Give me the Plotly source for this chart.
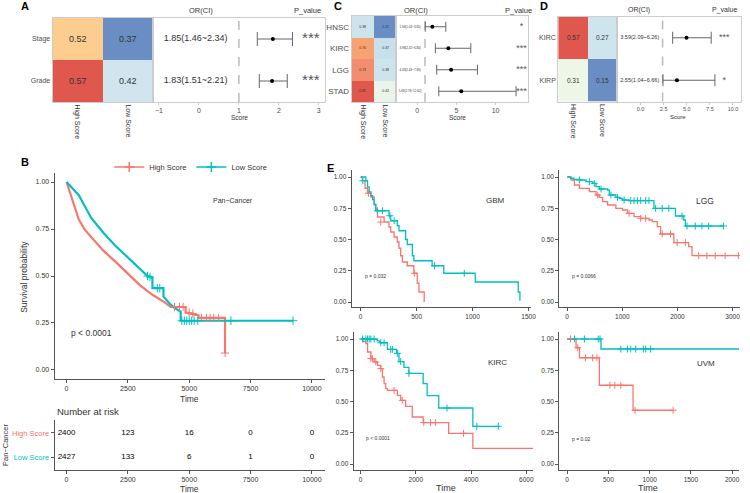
import plotly.graph_objects as go

W, H = 750, 493
def fx(p): return p / W
def fy(p): return 1 - p / H

RED = "#F8766D"; TEAL = "#00BFC4"
FONT = "Liberation Sans"
TXT = "#333333"; AX = "#555555"; BOX = "#cccccc"

groups = ["High Score", "Low Score"]

# ---------------- Panel A ----------------
a_rows = ["Stage", "Grade"]
a_high = [0.52, 0.57]
a_low = [0.37, 0.42]
a_or = [1.85, 1.83]
a_lo = [1.46, 1.51]
a_hi = [2.34, 2.21]
a_p = ["***", "***"]
a_ticks = [-1, 0, 1, 2, 3]

# ---------------- Panel C ----------------
c_rows = ["HNSC", "KIRC", "LGG", "STAD"]
c_high = [0.38, 0.70, 0.73, 0.81]
c_low = [0.22, 0.37, 0.38, 0.43]
c_or = [1.94, 3.98, 4.33, 5.63]
c_lo = [1.03, 2.32, 2.49, 2.76]
c_hi = [3.65, 6.84, 7.69, 12.62]
c_p = ["*", "***", "***", "***"]
c_ticks = [0, 5, 10]

# ---------------- Panel D ----------------
d_rows = ["KIRC", "KIRP"]
d_high = [0.57, 0.31]
d_low = [0.27, 0.15]
d_or = [3.59, 2.55]
d_lo = [2.09, 1.04]
d_hi = [6.26, 6.66]
d_p = ["***", "*"]
d_ticklabels = [0.0, 2.5, 5.0, 7.5, 10.0]

# ---------------- Panel B (pan-cancer KM) ----------------
b_high_t = [0, 250, 500, 750, 1000, 1500, 2000, 2500, 3000, 3500, 4000, 4250, 4850, 4850, 5380, 5380, 6460, 6460]
b_high_s = [1.0, 0.90, 0.80, 0.745, 0.71, 0.635, 0.575, 0.51, 0.45, 0.40, 0.36, 0.335, 0.335, 0.305, 0.29, 0.277, 0.277, 0.09]
b_low_t = [0, 250, 500, 750, 1000, 1250, 1500, 2000, 2500, 3000, 3300, 3500, 3500, 3950, 3950, 4200, 4400, 4650, 4650, 9230]
b_low_s = [1.0, 0.965, 0.93, 0.87, 0.81, 0.77, 0.73, 0.66, 0.60, 0.54, 0.50, 0.49, 0.435, 0.435, 0.39, 0.354, 0.33, 0.31, 0.262, 0.262]
b_cens_high_t = [4400, 4600, 4750, 5000, 5150, 5500, 5700, 5850, 6000, 6200, 6460]
b_cens_high_s = [0.335, 0.335, 0.335, 0.305, 0.30, 0.277, 0.277, 0.277, 0.277, 0.277, 0.09]
b_cens_low_t = [3300, 3400, 3700, 3800, 4700, 4800, 4900, 5000, 5100, 5200, 5350, 6700, 9230]
b_cens_low_s = [0.50, 0.495, 0.435, 0.435, 0.262, 0.262, 0.262, 0.262, 0.262, 0.262, 0.262, 0.262, 0.262]

risk_times = [0, 2500, 5000, 7500, 10000]
risk_high = [2400, 123, 16, 0, 0]
risk_low = [2427, 133, 6, 1, 0]

# ---------------- Panel E (per-cancer KM) ----------------
gbm_high_t = [0, 15, 40, 62, 92, 121, 136, 151, 210, 254, 269, 299, 328, 343, 358, 373, 417, 476, 506, 521, 568]
gbm_high_s = [1.0, 0.97, 0.91, 0.87, 0.84, 0.78, 0.74, 0.68, 0.64, 0.60, 0.56, 0.52, 0.48, 0.43, 0.37, 0.32, 0.29, 0.23, 0.15, 0.08, 0.0]
gbm_low_t = [0, 47, 62, 77, 92, 107, 121, 135, 254, 269, 328, 343, 402, 417, 462, 476, 639, 743, 1024, 1408, 1423]
gbm_low_s = [1.0, 0.97, 0.92, 0.88, 0.85, 0.82, 0.78, 0.73, 0.69, 0.65, 0.61, 0.57, 0.50, 0.46, 0.37, 0.33, 0.29, 0.23, 0.16, 0.08, 0.01]
gbm_cens_high_t = [70, 180, 480]
gbm_cens_high_s = [0.87, 0.64, 0.23]
gbm_cens_low_t = [20, 150, 195, 262, 300, 660, 926]
gbm_cens_low_s = [0.97, 0.73, 0.73, 0.69, 0.65, 0.29, 0.23]

lgg_high_t = [0, 72, 132, 222, 402, 522, 583, 643, 733, 883, 1003, 1093, 1213, 1333, 1483, 1544, 1634, 1694, 1934, 2204, 2264, 3105]
lgg_high_s = [1.0, 0.976, 0.936, 0.909, 0.883, 0.856, 0.837, 0.803, 0.776, 0.749, 0.736, 0.709, 0.683, 0.669, 0.656, 0.643, 0.603, 0.544, 0.475, 0.443, 0.371, 0.371]
lgg_low_t = [0, 60, 120, 222, 342, 462, 522, 583, 733, 763, 883, 943, 1003, 1123, 1574, 1964, 2114, 2144, 2835]
lgg_low_s = [1.0, 0.99, 0.98, 0.976, 0.963, 0.949, 0.923, 0.904, 0.896, 0.856, 0.837, 0.829, 0.816, 0.811, 0.749, 0.688, 0.656, 0.608, 0.608]
lgg_cens_high_t = [553, 1123, 1333, 1423, 1724, 1874, 1994, 2144, 2384, 2534, 2685, 2865, 3105]
lgg_cens_high_s = [0.856, 0.709, 0.669, 0.669, 0.544, 0.544, 0.475, 0.475, 0.371, 0.371, 0.371, 0.371, 0.371]
lgg_cens_low_t = [222, 402, 492, 613, 793, 913, 1033, 1153, 1213, 1273, 1333, 1423, 1483, 1604, 1724, 1844, 2084, 2174, 2324, 2444, 2565, 2835]
lgg_cens_low_s = [0.976, 0.963, 0.949, 0.904, 0.856, 0.837, 0.816, 0.811, 0.811, 0.811, 0.811, 0.811, 0.811, 0.749, 0.749, 0.749, 0.688, 0.608, 0.608, 0.608, 0.608, 0.608]

kirc_high_t = [0, 100, 192, 252, 372, 492, 612, 731, 791, 851, 911, 971, 1331, 1451, 1631, 1871, 2266, 3189, 4065, 6247]
kirc_high_s = [1.0, 0.98, 0.963, 0.896, 0.843, 0.816, 0.789, 0.763, 0.696, 0.643, 0.603, 0.589, 0.549, 0.509, 0.461, 0.376, 0.331, 0.245, 0.125, 0.125]
kirc_low_t = [0, 600, 700, 971, 1307, 1391, 1571, 1751, 2266, 2410, 2830, 4065, 5000]
kirc_low_s = [1.0, 0.985, 0.97, 0.917, 0.885, 0.819, 0.773, 0.725, 0.643, 0.547, 0.448, 0.301, 0.301]
kirc_cens_high_t = [372, 432, 552, 731, 1211, 1511, 2290, 2530, 2710, 3729]
kirc_cens_high_s = [0.843, 0.843, 0.816, 0.763, 0.589, 0.509, 0.331, 0.331, 0.331, 0.245]
kirc_cens_low_t = [72, 192, 252, 312, 372, 492, 731, 851, 1091, 1151, 1331, 1451, 1751, 3129, 4209, 4988]
kirc_cens_low_s = [1.0, 1.0, 1.0, 1.0, 1.0, 1.0, 0.97, 0.97, 0.917, 0.917, 0.885, 0.819, 0.725, 0.448, 0.301, 0.301]

uvm_high_t = [0, 108, 149, 390, 799, 1285]
uvm_high_s = [1.0, 0.93, 0.85, 0.63, 0.43, 0.43]
uvm_low_t = [0, 410, 2100]
uvm_low_s = [1.0, 0.92, 0.92]
uvm_cens_high_t = [40, 128, 221, 309, 361, 518, 578, 651, 823, 1285]
uvm_cens_high_s = [1.0, 0.93, 0.85, 0.85, 0.85, 0.63, 0.63, 0.63, 0.43, 0.43]
uvm_cens_low_t = [88, 209, 377, 398, 651, 731, 771, 831, 924, 952, 1012]
uvm_cens_low_s = [1.0, 1.0, 1.0, 1.0, 0.92, 0.92, 0.92, 0.92, 0.92, 0.92, 0.92]

# =====================================================================
fig = go.Figure()
layout = {}
shapes = []
annotations = []

def xr(n): return "x" if n == 1 else f"x{n}"
def yr(n): return "y" if n == 1 else f"y{n}"

def axis_pair(n, xdom, ydom, xrange, yrange, xkw=None, ykw=None):
    xname = "xaxis" if n == 1 else f"xaxis{n}"
    yname = "yaxis" if n == 1 else f"yaxis{n}"
    xa = dict(domain=[fx(xdom[0]), fx(xdom[1])], range=xrange, anchor=yr(n),
              showgrid=False, zeroline=False, fixedrange=True)
    ya = dict(domain=[fy(ydom[1]), fy(ydom[0])], range=yrange, anchor=xr(n),
              showgrid=False, zeroline=False, fixedrange=True)
    xa.update(xkw or {}); ya.update(ykw or {})
    layout[xname] = xa; layout[yname] = ya

def heat(n, rows, high, low, cs, zmin, zmax, tsize, rowsize, xdom, ydom):
    z = [[h, l] for h, l in zip(high, low)]
    fig.add_trace(go.Heatmap(z=z, x=groups, y=rows, colorscale=cs, zmin=zmin, zmax=zmax,
                             showscale=False, texttemplate="%{z:.2f}",
                             textfont=dict(size=tsize, color=TXT, family=FONT),
                             xaxis=xr(n), yaxis=yr(n), hoverinfo="skip"))
    axis_pair(n, xdom, ydom, [-0.5, 1.5], [len(rows) - 0.5, -0.5],
              xkw=dict(type="category", tickangle=90, tickfont=dict(size=7, color=TXT),
                       showline=True, mirror=True, linecolor=BOX, ticks=""),
              ykw=dict(type="category", tickfont=dict(size=rowsize, color="#4d4d4d"),
                       showline=True, mirror=True, linecolor=BOX, ticks=""))

def forest(n, o, lo, hi, p, xrange, tickvals, ticktext, tickfs, orx, orsize,
           px_, psize, cap, xdom, ydom):
    rows = list(range(len(o)))
    labels = [f"{a:.2f}({b:.2f}~{c:.2f})" for a, b, c in zip(o, lo, hi)]
    fig.add_trace(go.Scatter(
        x=o, y=rows, mode="markers", marker=dict(size=4, color="black"),
        error_x=dict(type="data", symmetric=False,
                     array=[h - v for h, v in zip(hi, o)],
                     arrayminus=[v - l for v, l in zip(o, lo)],
                     color="#666666", thickness=1, width=cap),
        xaxis=xr(n), yaxis=yr(n), hoverinfo="skip", showlegend=False))
    fig.add_trace(go.Scatter(x=[orx] * len(o), y=rows, mode="text", text=labels,
                             textfont=dict(size=orsize, color=TXT, family=FONT),
                             xaxis=xr(n), yaxis=yr(n), hoverinfo="skip", showlegend=False))
    fig.add_trace(go.Scatter(x=[px_] * len(o), y=rows, mode="text", text=p,
                             textfont=dict(size=psize, color="#555555", family=FONT),
                             xaxis=xr(n), yaxis=yr(n), hoverinfo="skip", showlegend=False))
    shapes.append(dict(type="line", xref=xr(n), yref=f"{yr(n)} domain", x0=1, x1=1, y0=0, y1=1,
                       line=dict(color="#bbbbbb", width=1.5, dash="dash"), layer="below"))
    axis_pair(n, xdom, ydom, xrange, [len(o) - 0.5, -0.5],
              xkw=dict(showline=True, mirror=True, linecolor=BOX, ticks="outside", ticklen=2,
                       tickcolor=BOX, tickvals=tickvals, ticktext=ticktext,
                       tickfont=dict(size=tickfs, color="#4d4d4d")),
              ykw=dict(showline=True, mirror=True, linecolor=BOX, showticklabels=False, ticks=""))

def km_axes(n, xdom, ydom, xrange, yrange, xticks, fs=7):
    axis_pair(n, xdom, ydom, xrange, yrange,
              xkw=dict(showline=True, linecolor=AX, linewidth=1, ticks="outside", ticklen=3,
                       tickcolor=AX, tickvals=xticks, ticktext=[str(v) for v in xticks],
                       tickfont=dict(size=fs, color=TXT)),
              ykw=dict(showline=True, linecolor=AX, linewidth=1, ticks="outside", ticklen=3,
                       tickcolor=AX, tickvals=[0, 0.25, 0.5, 0.75, 1.0],
                       ticktext=["0.00", "0.25", "0.50", "0.75", "1.00"],
                       tickfont=dict(size=fs, color=TXT)))

def km(n, t, s, color, shape="hv", width=1.3):
    fig.add_trace(go.Scatter(x=t, y=s, mode="lines", line=dict(color=color, width=width, shape=shape),
                             xaxis=xr(n), yaxis=yr(n), hoverinfo="skip", showlegend=False))

def cens(n, t, s, color, size=5):
    fig.add_trace(go.Scatter(x=t, y=s, mode="markers",
                             marker=dict(symbol="cross-thin", size=size, color=color,
                                         line=dict(color=color, width=1)),
                             xaxis=xr(n), yaxis=yr(n), hoverinfo="skip", showlegend=False))

# ---- Heatmaps ----
cs_a = [[0, "#6a8ec4"], [0.25, "#d0e5ee"], [0.5, "#f0f6e6"], [0.75, "#fdcd90"], [1, "#e0574e"]]
cs_c = [[0, "#6a8ec4"], [0.26, "#c9e2ed"], [0.36, "#ecf5ea"], [0.6, "#fdd495"],
        [0.81, "#f8a374"], [0.86, "#f39070"], [1, "#e0574e"]]
cs_d = [[0, "#6a8ec4"], [0.29, "#d0e6ef"], [0.38, "#eef6e8"], [0.7, "#fdcd90"], [1, "#e0574e"]]

heat(1, a_rows, a_high, a_low, cs_a, 0.37, 0.57, 9, 7, (53, 154), (18, 102))
forest(2, a_or, a_lo, a_hi, a_p, [-1.15, 3.15], a_ticks, [str(v).replace("-", "\u2212") for v in a_ticks],
       7, -0.08, 9, 2.8, 15, 7, (154, 327), (18, 102))

heat(3, c_rows, c_high, c_low, cs_c, 0.22, 0.81, 3.5, 8, (354, 399), (16, 102))
forest(4, c_or, c_lo, c_hi, c_p, [-2.66, 14.2], c_ticks, [str(v) for v in c_ticks],
       7, -0.9, 3, 13.3, 9, 5, (399, 532), (16, 102))

heat(5, d_rows, d_high, d_low, cs_d, 0.15, 0.57, 6.5, 7, (562, 621), (16.5, 101.5))
forest(6, d_or, d_lo, d_hi, d_p, [-3.95, 9.49], [v - 1.38 for v in d_ticklabels],
       [f"{v:.1f}" for v in d_ticklabels], 5.5, -1.47, 5.5, 7.67, 9, 6, (621, 746), (16.5, 101.5))

# ---- Panel B ----
km_axes(7, (55, 327), (173, 379), [-486, 10526], [-0.048, 1.048], risk_times, fs=7)
fig.add_trace(go.Scatter(x=b_high_t, y=b_high_s, mode="lines", line=dict(color=RED, width=2.2),
                         xaxis="x7", yaxis="y7", hoverinfo="skip", showlegend=False))
fig.add_trace(go.Scatter(x=b_low_t, y=b_low_s, mode="lines", line=dict(color=TEAL, width=2.2),
                         xaxis="x7", yaxis="y7", hoverinfo="skip", showlegend=False))
cens(7, b_cens_high_t, b_cens_high_s, RED, 6)
cens(7, b_cens_low_t, b_cens_low_s, TEAL, 6)
for name, col in (("High Score", RED), ("Low Score", TEAL)):
    fig.add_trace(go.Scatter(x=[None], y=[None], mode="lines+markers", name=name,
                             line=dict(color=col, width=1.5),
                             marker=dict(symbol="cross-thin", size=7, color=col, line=dict(color=col, width=1.5)),
                             xaxis="x7", yaxis="y7", showlegend=True))

# risk table
axis_pair(8, (55, 327), (420, 470), [-486, 10526], [-0.54, 1.54],
          xkw=dict(showline=True, linecolor=AX, ticks="outside", ticklen=3, tickcolor=AX,
                   tickvals=risk_times, ticktext=[str(v) for v in risk_times],
                   tickfont=dict(size=7, color=TXT)),
          ykw=dict(showline=True, linecolor=AX, ticks="outside", ticklen=3, tickcolor=AX,
                   tickvals=[1, 0],
                   ticktext=[f'<span style="color:{RED}">High Score</span>',
                             f'<span style="color:{TEAL}">Low Score</span>'],
                   tickfont=dict(size=7.5)))
fig.add_trace(go.Scatter(x=risk_times, y=[1] * len(risk_times), mode="text",
                         text=[str(v) for v in risk_high], textfont=dict(size=8, color="black", family=FONT),
                         xaxis="x8", yaxis="y8", hoverinfo="skip", showlegend=False))
fig.add_trace(go.Scatter(x=risk_times, y=[0] * len(risk_times), mode="text",
                         text=[str(v) for v in risk_low], textfont=dict(size=8, color="black", family=FONT),
                         xaxis="x8", yaxis="y8", hoverinfo="skip", showlegend=False))

# ---- Panel E ----
km_axes(9, (354, 535), (170, 307), [-80, 1526], [-0.04, 1.056], [0, 500, 1000, 1500], fs=6.5)
km(9, gbm_high_t, gbm_high_s, RED); km(9, gbm_low_t, gbm_low_s, TEAL)
cens(9, gbm_cens_high_t, gbm_cens_high_s, RED); cens(9, gbm_cens_low_t, gbm_cens_low_s, TEAL)

km_axes(10, (563, 745), (170, 307), [-144, 3135], [-0.04, 1.056], [0, 1000, 2000, 3000], fs=6.5)
km(10, lgg_high_t, lgg_high_s, RED); km(10, lgg_low_t, lgg_low_s, TEAL)
cens(10, lgg_cens_high_t, lgg_cens_high_s, RED); cens(10, lgg_cens_low_t, lgg_cens_low_s, TEAL)

km_axes(11, (356, 537), (332, 470), [-252, 6259], [-0.048, 1.056], [0, 2000, 4000, 6000], fs=6.5)
km(11, kirc_high_t, kirc_high_s, RED); km(11, kirc_low_t, kirc_low_s, TEAL)
cens(11, kirc_cens_high_t, kirc_cens_high_s, RED); cens(11, kirc_cens_low_t, kirc_cens_low_s, TEAL)

km_axes(12, (563, 744), (332, 470), [-96, 2084], [-0.048, 1.056], [0, 500, 1000, 1500, 2000], fs=6.5)
km(12, uvm_high_t, uvm_high_s, RED); km(12, uvm_low_t, uvm_low_s, TEAL)
cens(12, uvm_cens_high_t, uvm_cens_high_s, RED); cens(12, uvm_cens_low_t, uvm_cens_low_s, TEAL)

# ---- text annotations ----
def ann(x, y, text, size, color="black", angle=0, xanchor="center", bold=False):
    if bold:
        text = f"<b>{text}</b>"
    annotations.append(dict(x=fx(x), y=fy(y), xref="paper", yref="paper", text=text, showarrow=False,
                            font=dict(size=size, color=color, family=FONT), textangle=angle,
                            xanchor=xanchor, yanchor="middle"))

for lab, x, y in (("A", 25, 6), ("B", 25, 162), ("C", 340, 6), ("D", 548, 6), ("E", 333, 168)):
    ann(x, y, lab, 11, bold=True)

ann(202, 10, "OR(CI)", 7.5, TXT); ann(310, 10, "P_value", 7.5, TXT)
ann(419, 10, "OR(CI)", 7.5, TXT); ann(522, 10, "P_value", 7.5, TXT)
ann(643, 10, "OR(CI)", 7, TXT); ann(729, 10, "P_value", 7, TXT)
ann(241, 118, "Score", 6.5, TXT); ann(461, 118, "Score", 6.5, TXT); ann(683, 117, "Score", 6, TXT)

ann(235, 200, "Pan\u2212Cancer", 7, TXT)
ann(92, 333, "p < 0.0001", 8.5, TXT)
ann(24, 277, "Survival probability", 8.5, TXT, angle=-90)
ann(191, 399, "Time", 8.5, TXT)
ann(55, 411, "Number at risk", 9.5, TXT, xanchor="left")
ann(5, 445, "Pan\u2212Cancer", 7.5, TXT, angle=-90)
ann(191, 489, "Time", 8.5, TXT)

ann(499, 201, "GBM", 8, TXT); ann(710, 201, "LGG", 8.5, TXT)
ann(501, 362, "KIRC", 8, TXT); ann(711, 363, "UVM", 8, TXT)
ann(378, 276, "p = 0.032", 5, TXT); ann(588, 276, "p = 0.0066", 5, TXT)
ann(381, 438, "p < 0.0001", 5, TXT); ann(585, 439, "p = 0.02", 5, TXT)
ann(449, 488, "Time", 9, TXT); ann(652, 488, "Time", 9, TXT)

layout.update(dict(
    width=W, height=H, margin=dict(l=0, r=0, t=0, b=0),
    paper_bgcolor="white", plot_bgcolor="white",
    font=dict(family=FONT, color=TXT),
    shapes=shapes, annotations=annotations,
    showlegend=True,
    legend=dict(orientation="h", x=fx(110), y=fy(167), xanchor="left", yanchor="middle",
                font=dict(size=7.5, color=TXT), bgcolor="rgba(0,0,0,0)", itemwidth=30,
                tracegroupgap=0, itemclick=False, itemdoubleclick=False),
))
fig.update_layout(**layout)
fig.write_html("out.html", config={"displayModeBar": False},
               post_script="document.body.style.margin='0px';document.body.style.padding='0px';")
